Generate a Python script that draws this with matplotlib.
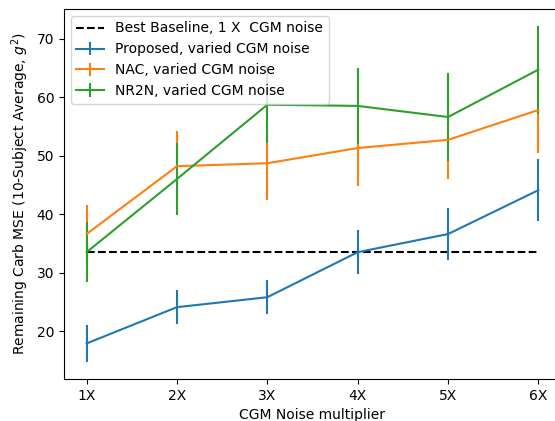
import matplotlib.pyplot as plt

labels = ["1X", "2X", "3X", "4X", "5X", "6X"]
x = [1, 2, 3, 4, 5, 6]

baseline = 33.5

proposed = [17.9, 24.1, 25.8, 33.5, 36.6, 44.1]
proposed_err = [3.2, 2.9, 2.9, 3.8, 4.4, 5.3]

nac = [36.6, 48.2, 48.7, 51.3, 52.7, 57.8]
nac_err = [5.0, 6.0, 6.3, 6.5, 6.7, 7.4]

nr2n = [33.5, 46.0, 58.7, 58.5, 56.6, 64.7]
nr2n_err = [5.1, 6.2, 6.5, 6.5, 7.5, 7.5]

fig = plt.figure(figsize=(5.55, 4.21), dpi=100)
# axes runs a bit past the right edge, like the cropped original
ax = fig.add_axes([0.1153, 0.0998, 0.8955, 0.879])

ax.plot(x, [baseline] * len(x), "k--", label="Best Baseline, 1 X  CGM noise")
ax.errorbar(x, proposed, yerr=proposed_err, label="Proposed, varied CGM noise")
ax.errorbar(x, nac, yerr=nac_err, label="NAC, varied CGM noise")
ax.errorbar(x, nr2n, yerr=nr2n_err, label="NR2N, varied CGM noise")

ax.set_xticks(x)
ax.set_xticklabels(labels)
ax.set_xlabel("CGM Noise multiplier")
ax.set_ylabel("Remaining Carb MSE (10-Subject Average, $g^2$)")
ax.legend(loc="upper left")

fig.savefig("out.png")
